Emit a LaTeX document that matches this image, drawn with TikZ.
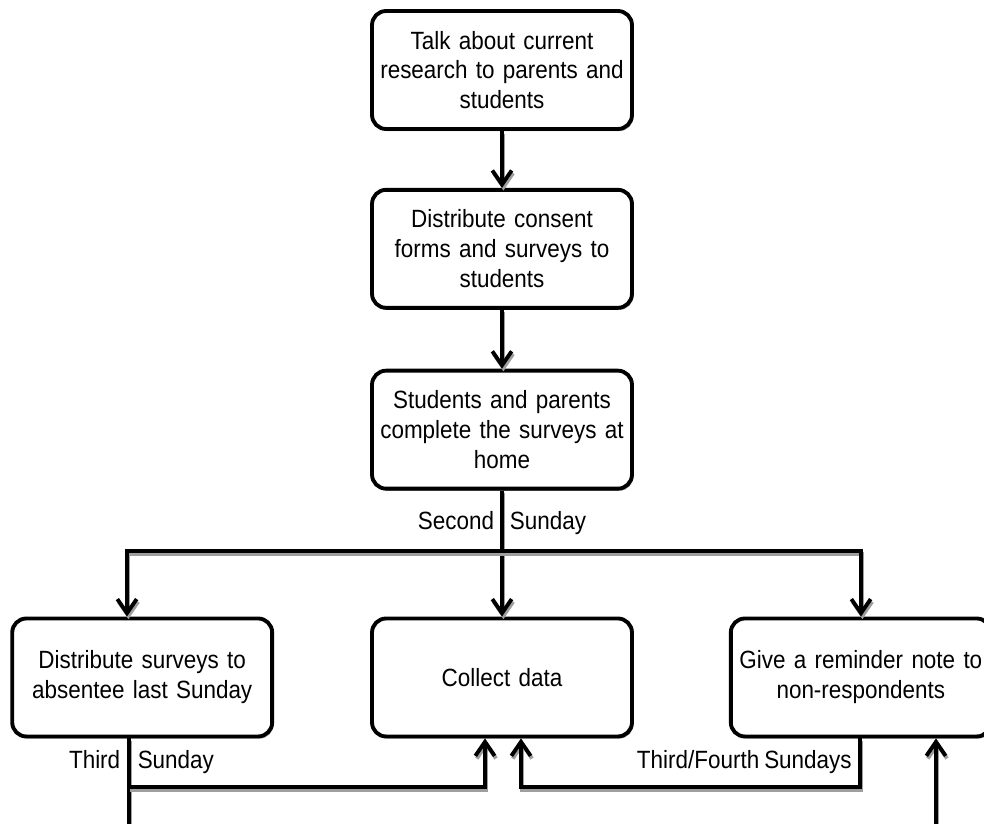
\documentclass[tikz,border=0pt]{standalone}
\usepackage{fontspec}
\setmainfont[FakeStretch=0.9,WordSpace=0.8]{Liberation Sans}
\usetikzlibrary{arrows.meta,positioning,shadows}
\definecolor{shadowgrey}{rgb}{0.62,0.62,0.62}
\tikzset{
  stage/.style={
    rounded corners=8pt,
    draw=black,
    line width=2.2pt,
    fill=white,
    align=center,
    text width=5.1cm,
    minimum height=2.36cm,
    inner sep=0.05cm,
    font=\fontsize{14.2}{17}\selectfont,
    drop shadow={shadow xshift=0.8pt, shadow yshift=-1.2pt, fill=shadowgrey, opacity=1}
  },
  wire/.style={
    line width=2.2pt,
    preaction={draw=shadowgrey, line width=2.2pt, transform canvas={shift={(0.8pt,-1.5pt)}}}
  },
  arrow/.style={
    wire,
    -{Straight Barb[length=8pt,width=11pt]}
  },
  tag/.style={
    font=\fontsize{14.2}{17}\selectfont,
    inner sep=0pt
  }
}

\begin{document}
\begin{tikzpicture}[x=0.02cm, y=-0.02cm]
\useasboundingbox (0,0) rectangle (984,824);
\node[stage] (talk) at (502,70) {Talk about current\\research to parents and\\students};
\node[stage, below=1.14cm of talk] (consent) {Distribute consent\\forms and surveys to\\students};
\node[stage, below=1.18cm of consent] (home) {Students and parents\\complete the surveys at\\home};
\node[stage, below=2.52cm of home] (collect) {Collect data};
\node[stage, left=1.92cm of collect] (absent) {Distribute surveys to\\absentee last Sunday};
\node[stage, right=1.9cm of collect] (remind) {Give a reminder note to\\non-respondents};

% second sunday split
\coordinate (split) at (502,551);
\coordinate (barL) at (127,551);
\coordinate (barR) at (861,551);
\draw[arrow] (talk) -- (consent);
\draw[arrow] (consent) -- (home);
\draw[arrow] (home) -- (collect);
\draw[arrow] (split) -- (barL) -- (barL |- absent.north);
\draw[arrow] (split) -- (barR) -- (barR |- remind.north);
\node[tag] (second) at (502,523) {Second\hspace{9pt}Sunday};

% third and fourth sundays
\coordinate (cutL) at (129,830);
\coordinate (forkL) at (129,787);
\coordinate (forkR) at (860,787);
\coordinate (cutR) at (936,830);
\draw[wire] (absent.south -| cutL) -- (cutL);
\draw[arrow] (forkL) -| ([xshift=-0.34cm]collect.south);
\draw[arrow] (remind.south -| forkR) -- (forkR) -| ([xshift=0.38cm]collect.south);
\draw[arrow] (cutR) -- (remind.south -| cutR);
\node[tag] (third) at (129,762) {\llap{Third\hspace{5pt}}\rlap{\hspace{5pt}Sunday}};
\node[tag, anchor=east] (later) at (852,762) {Third/Fourth Sundays};
\end{tikzpicture}
\end{document}
